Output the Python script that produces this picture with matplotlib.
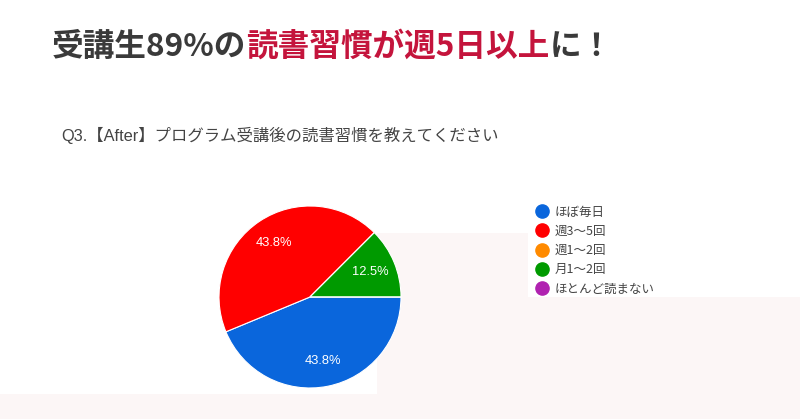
import matplotlib
matplotlib.use("Agg")
import matplotlib.pyplot as plt
from matplotlib.patches import Rectangle
from matplotlib.lines import Line2D

plt.rcParams['font.family'] = ['Noto Sans CJK JP', 'DejaVu Sans']

# ---- data ----
categories = ["ほぼ毎日", "週3〜5回", "週1〜2回", "月1〜2回", "ほとんど読まない"]
counts = [7, 7, 0, 2, 0]
colors = ["#0a66dc", "#ff0000", "#ff8a00", "#009a00", "#b022b0"]
title_parts = [("受講生89%の", "#3a3a3a"), ("読書習慣が週5日以上", "#c4143c"), ("に！", "#3a3a3a")]
subtitle = "Q3.【After】プログラム受講後の読書習慣を教えてください"

W, H = 800, 419
fig = plt.figure(figsize=(W / 100, H / 100), dpi=100)
fig.patch.set_facecolor("white")

pink = "#fcf6f6"
def prect(x0, y0, x1, y1):
    fig.add_artist(Rectangle((x0 / W, 1 - y1 / H), (x1 - x0) / W, (y1 - y0) / H,
                             transform=fig.transFigure, facecolor=pink,
                             edgecolor="none", zorder=0))
prect(377, 297, 800, 419)
prect(377, 233, 528, 297)
prect(0, 394, 377, 419)

# ---- title (multi-colour) ----
renderer = fig.canvas.get_renderer()
x = 52 / W
for txt, col in title_parts:
    t = fig.text(x, 1 - 47 / H, txt, color=col, fontsize=22.8, fontweight="bold",
                 va="center", ha="left")
    bb = t.get_window_extent(renderer=renderer)
    x = bb.x1 / W

fig.text(61 / W, 1 - 135 / H, subtitle, color="#444444", fontsize=11.8,
         va="center", ha="left",
         family=['Liberation Sans', 'Noto Sans CJK JP'])

# ---- pie ----
cx, cy, r = 310, 297, 91
ax = fig.add_axes([(cx - r) / W, 1 - (cy + r) / H, 2 * r / W, 2 * r / H])
ax.set_zorder(2)
ax.patch.set_alpha(0)

def fmt(p):
    return f"{p:.1f}%" if p > 0 else ""

wedges, texts, autotexts = ax.pie(
    counts, colors=colors, startangle=0, counterclock=False,
    autopct=fmt, pctdistance=0.72, radius=1,
    wedgeprops=dict(edgecolor="white", linewidth=0.8),
    textprops=dict(color="white", fontsize=9.3, family=['Liberation Sans']))
ax.set_xlim(-1, 1)
ax.set_ylim(-1, 1)
ax.set_aspect("equal")
ax.axis("off")

# ---- legend ----
handles = [Line2D([0], [0], marker="o", linestyle="none", markersize=9.5,
                  markerfacecolor=c, markeredgecolor=c) for c in colors]
leg = fig.legend(handles, categories, loc="upper left",
                 bbox_to_anchor=(534 / W, 1 - 205.5 / H), frameon=False,
                 fontsize=9, labelspacing=0.5, handletextpad=0.45,
                 handlelength=1.2, borderpad=0, borderaxespad=0)
for t in leg.get_texts():
    t.set_color("#444444")

fig.savefig("out.png", dpi=100)
